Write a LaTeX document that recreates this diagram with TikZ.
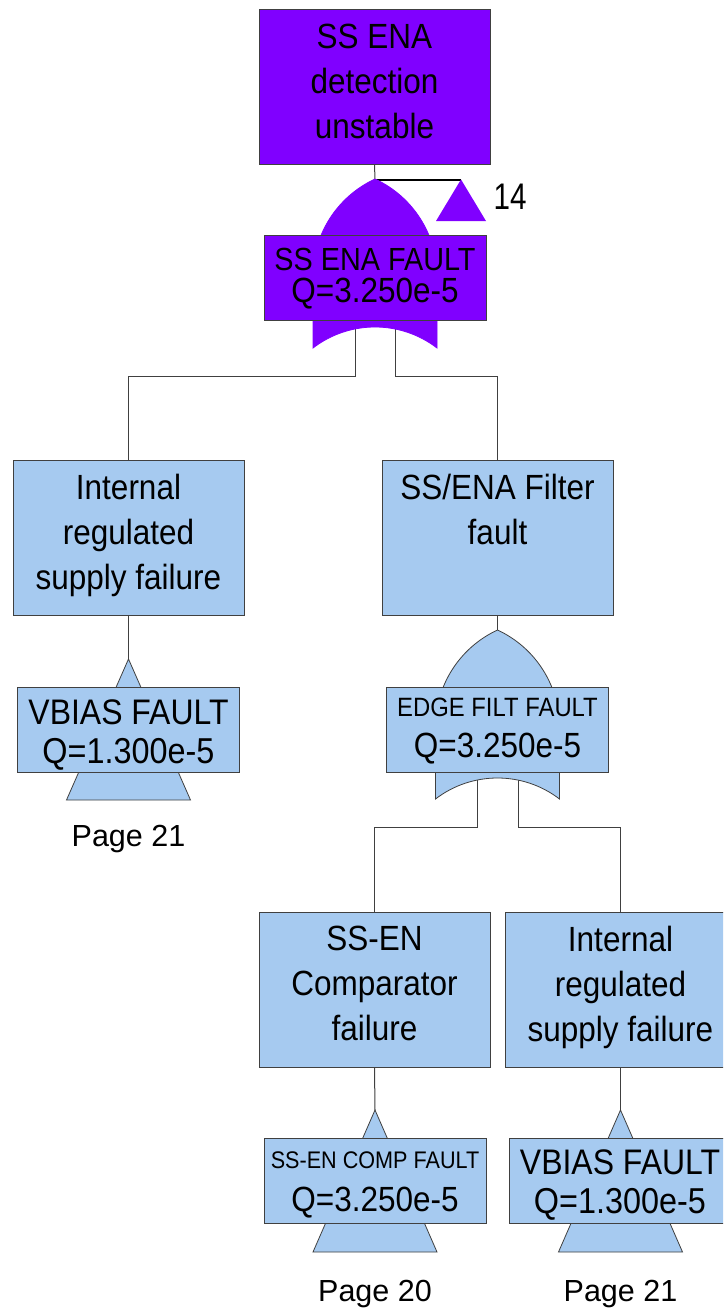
\documentclass[tikz,border=0pt]{standalone}
\usepackage{fontspec}
\setmainfont{Liberation Sans}
\newfontfamily\nf[FakeStretch=0.9]{Liberation Sans}
\newfontfamily\nff[FakeStretch=0.8]{Liberation Sans}
\definecolor{vio}{HTML}{8000FF}
\definecolor{lblue}{HTML}{A6CAF0}
\definecolor{edgecol}{HTML}{404040}
\newcommand{\orgateshape}[4]{% x, y, fill, draw
  \path[draw=#4, fill=#3, line width=0.8pt, shift={(#1,#2)}]
    (0,0) .. controls (37.8,17.5) and (62,55.3) .. (62,97) -- (62,169)
    .. controls (25.5,141) and (-25.5,141) .. (-62,169) -- (-62,97)
    .. controls (-62,55.3) and (-37.8,17.5) .. cycle;}
\tikzset{
  mainbox/.style={draw=edgecol, line width=0.8pt, minimum width=231pt, minimum height=155pt, inner sep=0pt},
  labbox/.style={draw=edgecol, line width=0.8pt, minimum width=222pt, minimum height=85pt, inner sep=0pt},
  maintxt/.style={inner sep=0pt, align=center, text=black, font=\nf\fontsize{35}{45}\selectfont},
  gtxt/.style={inner sep=0pt, text=black},
  conn/.style={draw=edgecol, line width=1pt},
  tri/.style={draw=edgecol, line width=0.8pt, fill=lblue},
  pagetxt/.style={inner sep=0pt, anchor=base, text=black, font=\fontsize{30.5}{36}\selectfont},
}
\begin{document}
\begin{tikzpicture}[x=1pt, y=-1pt]
\useasboundingbox (0,0) rectangle (723,1312);
\clip (0,0) rectangle (723,1312);
\fill[white] (0,0) rectangle (723,1312);

% coordinates
\coordinate (g1a) at (375,179.5);
\coordinate (t0a) at (461,179.5);
\coordinate (g1o1) at (355,329);
\coordinate (g1o2) at (395,329);
\coordinate (g2a) at (497.5,630);
\coordinate (g2o1) at (477,780);
\coordinate (g2o2) at (518,780);
\coordinate (t1a) at (128.5,659);
\coordinate (t2a) at (375,1110);
\coordinate (t3a) at (620.5,1110);

% main boxes
\node[mainbox, fill=vio] (top) at (374.5,86.5) {};
\node[mainbox, fill=lblue] (left) at (128.5,538) {};
\node[mainbox, fill=lblue] (right) at (497.5,538) {};
\node[mainbox, fill=lblue] (bl) at (374.5,989.5) {};
\node[mainbox, fill=lblue] (br) at (620.5,989.5) {};

% connectors
\draw[conn] (top.south) -- (g1a);
\draw[black, line width=2pt] (g1a) -- (t0a);
\draw[conn] (g1o1) -- ++(0,47) -| (left.north);
\draw[conn] (g1o2) -- ++(0,47) -| (right.north);
\draw[conn] (left.south) -- (t1a);
\draw[conn] (right.south) -- (g2a);
\draw[conn] (g2o1) -- ++(0,47) -| (bl.north);
\draw[conn] (g2o2) -- ++(0,47) -| (br.north);
\draw[conn] (bl.south) -- (t2a);
\draw[conn] (br.south) -- (t3a);

% gates
\orgateshape{375}{179}{vio}{vio}
\orgateshape{497.5}{630}{lblue}{edgecol}

% transfer triangles
\path[fill=vio] (t0a) -- (486,221) -- (436,221) -- cycle;
\path[tri] (t1a) -- (190.5,800) -- (66.5,800) -- cycle;
\path[tri] (t2a) -- (437,1252) -- (313,1252) -- cycle;
\path[tri] (t3a) -- (682.5,1252) -- (558.5,1252) -- cycle;

% label boxes
\node[labbox, fill=vio] (g1lab) at (375,277.5) {};
\node[labbox, fill=lblue] (vb1lab) at (128.5,729.5) {};
\node[labbox, fill=lblue] (g2lab) at (497.5,729.5) {};
\node[labbox, fill=lblue] (bllab) at (375,1180.5) {};
\node[labbox, fill=lblue] (brlab) at (620,1180.5) {};

% box texts
\node[maintxt] (toptxt) at (374.5,81) {SS ENA\\detection\\unstable};
\node[maintxt] (lefttxt) at (128.5,535) {Internal\\regulated\\supply failure};
\node[maintxt] (righttxt) at (497.5,509.5) {SS/ENA Filter\\fault};
\node[maintxt] (bltxt) at (374.5,983.5) {SS-EN\\Comparator\\failure};
\node[maintxt] (brtxt) at (620.5,987) {Internal\\regulated\\supply failure};

% gate / event label texts
\node[gtxt, font=\nf\fontsize{32}{36}\selectfont] (g1t1) at (375,259) {SS ENA FAULT};
\node[gtxt, font=\nf\fontsize{35}{40}\selectfont] (g1t2) at (375,294) {Q=3.250e-5};
\node[gtxt, font=\nf\fontsize{35.5}{40}\selectfont] (vb1t1) at (128.5,712) {VBIAS FAULT};
\node[gtxt, font=\nf\fontsize{36}{40}\selectfont] (vb1t2) at (128.5,754) {Q=1.300e-5};
\node[gtxt, font=\nf\fontsize{26.5}{30}\selectfont] (g2t1) at (497.5,707) {EDGE FILT FAULT};
\node[gtxt, font=\nf\fontsize{35}{40}\selectfont] (g2t2) at (497.5,749) {Q=3.250e-5};
\node[gtxt, font=\nf\fontsize{24}{28}\selectfont] (blt1) at (375,1160) {SS-EN COMP FAULT};
\node[gtxt, font=\nf\fontsize{35}{40}\selectfont] (blt2) at (375,1203) {Q=3.250e-5};
\node[gtxt, font=\nf\fontsize{35.5}{40}\selectfont] (brt1) at (620,1162) {VBIAS FAULT};
\node[gtxt, font=\nf\fontsize{36}{40}\selectfont] (brt2) at (620,1204) {Q=1.300e-5};

% transfer labels
\node[gtxt, font=\nff\fontsize{37}{40}\selectfont] (n14) at (510,196.5) {14};
\node[pagetxt] (p1) at (128.5,846) {Page 21};
\node[pagetxt] (p2) at (375,1301) {Page 20};
\node[pagetxt] (p3) at (620.5,1301) {Page 21};
\end{tikzpicture}
\end{document}
